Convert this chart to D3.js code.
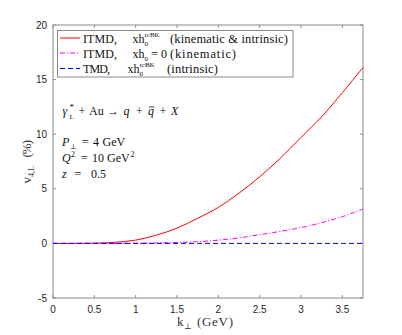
<!DOCTYPE html>
<html>
<head>
<meta charset="utf-8">
<script src="https://cdn.jsdelivr.net/npm/d3@7"></script>
<style>
  html, body { margin: 0; padding: 0; background: #fff; }
</style>
</head>
<body>
<script>
// k_perp grid (GeV)
const kPerp = [0, 0.25, 0.5, 0.75, 1.0, 1.25, 1.5, 1.75, 2.0, 2.25, 2.5, 2.75, 3.0, 3.25, 3.5, 3.75];
// v4,L (%) for each curve
const itmdFull = [0, 0.0, 0.02, 0.1, 0.3, 0.75, 1.4, 2.3, 3.3, 4.6, 6.1, 7.8, 9.7, 11.6, 13.8, 16.1];
const itmdKin  = [0, 0, 0, 0, 0.02, 0.04, 0.08, 0.16, 0.3, 0.5, 0.8, 1.1, 1.45, 1.9, 2.45, 3.15];
const tmdIntr  = [0, 0, 0, 0, 0, 0, 0, 0, 0, 0, 0, 0, 0, 0, 0, 0];

const xTicks = [0, 0.5, 1, 1.5, 2, 2.5, 3, 3.5];
const yTicks = [-5, 0, 5, 10, 15, 20];

const W = 402, H = 335;
const M = { left: 53, right: 39, top: 25, bottom: 37 };
const SERIF = '"Liberation Serif", "DejaVu Serif", serif';
const SANS = '"Liberation Sans", Arial, sans-serif';
const AXIS = '#8a8a8a';
const INK = '#111';

const svg = d3.select('body').append('svg')
  .attr('width', W).attr('height', H)
  .style('display', 'block');

const x = d3.scaleLinear().domain([0, 3.75]).range([M.left, W - M.right]);
const y = d3.scaleLinear().domain([-5, 20]).range([H - M.bottom, M.top]);

// box
svg.append('rect')
  .attr('x', x(0)).attr('y', y(20))
  .attr('width', x(3.75) - x(0)).attr('height', y(-5) - y(20))
  .attr('fill', 'none').attr('stroke', AXIS).attr('stroke-width', 1);

// ticks on all four sides, pointing inward
const tl = 3;
const tg = svg.append('g').attr('stroke', AXIS).attr('stroke-width', 1);
xTicks.forEach(t => {
  tg.append('line').attr('x1', x(t)).attr('x2', x(t)).attr('y1', y(-5)).attr('y2', y(-5) - tl);
  tg.append('line').attr('x1', x(t)).attr('x2', x(t)).attr('y1', y(20)).attr('y2', y(20) + tl);
});
yTicks.forEach(t => {
  tg.append('line').attr('x1', x(0)).attr('x2', x(0) + tl).attr('y1', y(t)).attr('y2', y(t));
  tg.append('line').attr('x1', x(3.75)).attr('x2', x(3.75) - tl).attr('y1', y(t)).attr('y2', y(t));
});

// tick labels
svg.append('g').selectAll('text').data(xTicks).join('text')
  .attr('x', d => x(d)).attr('y', y(-5) + 15)
  .attr('text-anchor', 'middle')
  .attr('font-family', SANS).attr('font-size', 10).attr('fill', '#262626')
  .text(d => d);
svg.append('g').selectAll('text').data(yTicks).join('text')
  .attr('x', x(0) - 6).attr('y', d => y(d) + 3.5)
  .attr('text-anchor', 'end')
  .attr('font-family', SANS).attr('font-size', 10).attr('fill', '#262626')
  .text(d => d);

// curves
const series = [
  { vals: itmdFull, color: '#ff0000', dash: null },
  { vals: itmdKin, color: '#ff00ff', dash: '5,2,1,2' },
  { vals: tmdIntr, color: '#0000ff', dash: '5,3' }
];
const line = d3.line()
  .x((d, i) => x(kPerp[i]))
  .y(d => y(d))
  .curve(d3.curveMonotoneX);
series.forEach(s => {
  svg.append('path')
    .attr('d', line(s.vals))
    .attr('fill', 'none')
    .attr('stroke', s.color)
    .attr('stroke-width', 1)
    .attr('stroke-dasharray', s.dash);
});

// text piece helper
function txt(g, xx, yy, str, opts = {}) {
  const t = g.append('text').attr('x', xx).attr('y', yy).text(str);
  if (opts.size) t.attr('font-size', opts.size);
  if (opts.italic) t.attr('font-style', 'italic');
  if (opts.len) t.attr('textLength', opts.len).attr('lengthAdjust', 'spacing');
  return t;
}

// legend
const lg = svg.append('g').attr('font-family', SERIF).attr('font-size', 12).attr('fill', INK);
lg.append('rect').attr('x', 57.5).attr('y', 30.5).attr('width', 235.5).attr('height', 46.5)
  .attr('fill', '#fff').attr('stroke', AXIS).attr('stroke-width', 1);
const rows = [38, 53, 68.5];
series.forEach((s, i) => {
  lg.append('line').attr('x1', 60).attr('x2', 80).attr('y1', rows[i]).attr('y2', rows[i])
    .attr('stroke', s.color).attr('stroke-width', 1).attr('stroke-dasharray', s.dash);
});
// row 1
let b = rows[0] + 4.5;
txt(lg, 83, b, 'ITMD,', { len: 34 });
txt(lg, 132.5, b, 'xh');
txt(lg, 144.5, b + 3, '0', { size: 7 });
txt(lg, 144.5, b - 6, 'rcBK', { size: 7 });
txt(lg, 170, b, '(kinematic & intrinsic)', { size: 12.5, len: 118 });
// row 2
b = rows[1] + 4.5;
txt(lg, 83, b, 'ITMD,', { len: 34 });
txt(lg, 132.5, b, 'xh');
txt(lg, 144.5, b + 3, '0', { size: 7 });
txt(lg, 151, b, '=');
txt(lg, 161, b, '0');
txt(lg, 170, b, '(kinematic)', { size: 12.5, len: 66 });
// row 3
b = rows[2] + 4.5;
txt(lg, 83, b, 'TMD,', { len: 27 });
txt(lg, 127.5, b, 'xh');
txt(lg, 139.5, b + 3, '0', { size: 7 });
txt(lg, 139.5, b - 6, 'rcBK', { size: 7 });
txt(lg, 167, b, '(intrinsic)', { size: 12.5, len: 51 });

// annotations
const an = svg.append('g').attr('font-family', SERIF).attr('font-size', 12).attr('fill', INK);
txt(an, 62.5, 115, 'γ', { italic: true });
txt(an, 69.5, 109.5, '*', { size: 9 });
txt(an, 69.5, 119, 'L', { size: 7 });
txt(an, 78.5, 115, '+');
txt(an, 89, 115, 'Au');
txt(an, 107, 115, '→');
txt(an, 123.5, 115, 'q', { italic: true });
txt(an, 136, 115, '+');
txt(an, 148, 115, 'q', { italic: true });
an.append('line').attr('x1', 149).attr('x2', 154.5).attr('y1', 107).attr('y2', 107)
  .attr('stroke', INK).attr('stroke-width', 0.8);
txt(an, 159.5, 115, '+');
txt(an, 171, 115, 'X', { italic: true });

// P_perp = 4 GeV
txt(an, 62, 146, 'P', { italic: true });
txt(an, 70, 149, '⊥', { size: 7 });
txt(an, 82, 146, '=');
txt(an, 93, 146, '4');
txt(an, 102.5, 146, 'GeV');
// Q^2 = 10 GeV^2
txt(an, 62, 162, 'Q', { italic: true });
txt(an, 71, 157, '2', { size: 8 });
txt(an, 81, 162, '=');
txt(an, 92, 162, '10');
txt(an, 107, 162, 'GeV');
txt(an, 130.5, 157, '2', { size: 8 });
// z = 0.5
txt(an, 62, 178, 'z', { italic: true });
txt(an, 74.5, 178, '=');
txt(an, 91, 178, '0.5');

// axis labels
const xl = svg.append('g').attr('font-family', SERIF).attr('font-size', 13).attr('fill', '#333');
txt(xl, 177, 326, 'k');
txt(xl, 184, 329, '⊥', { size: 8 });
txt(xl, 197, 326, '(GeV)', { len: 36 });

const yl = svg.append('g').attr('font-family', SERIF).attr('font-size', 13).attr('fill', '#333')
  .attr('transform', 'translate(31, 0) rotate(-90)');
txt(yl, -183.5, 0, 'v');
txt(yl, -177, 3, '4,L', { size: 8 });
txt(yl, -157.5, 0, '(%)', { len: 17.5 });
</script>
</body>
</html>
